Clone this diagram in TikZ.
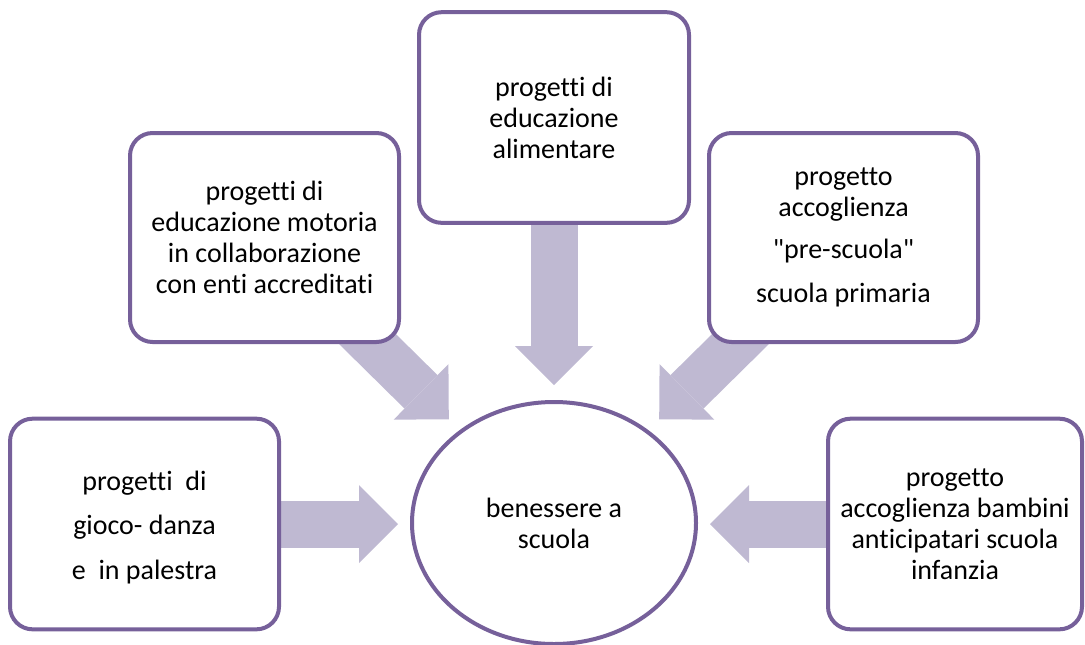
\documentclass[tikz,border=0pt]{standalone}
\usepackage{fontspec}
\setmainfont{Carlito}[Ligatures=NoCommon]
\usetikzlibrary{arrows.meta}
\usetikzlibrary{shapes}
\usetikzlibrary{backgrounds}
\definecolor{boxpurple}{RGB}{118,96,154}
\definecolor{arrowlilac}{RGB}{191,185,210}
\tikzset{
        bubble/.style={align=center,inner sep=0pt,font=\fontsize{21}{23.25}\selectfont},
        % Project boxes
        node_project/.style={bubble, rectangle, rounded corners=17pt, draw=boxpurple, line width=3pt, fill=white, minimum width=201.75pt, minimum height=158pt},
        % Central goal
        node_goal/.style={bubble, ellipse, draw=boxpurple, line width=3pt, fill=white, minimum width=213pt, minimum height=181.5pt},
        % Block arrows
        arrow_fat/.style={arrowlilac, line width=35.25pt, -{Triangle[width=58.5pt,length=29.25pt,line width=0pt]}}
}
\begin{document}
\begin{tikzpicture}[x=0.75pt, y=-0.75pt]
            \useasboundingbox (0,0) rectangle (1085,644);
            \node[node_goal] (benessere) at (554,523) {benessere a\\scuola};
            \node[node_project, font=\fontsize{21}{33.4}\selectfont] (gioco) at (144.5,524) {\\[-14pt]progetti\ \ di\\gioco- danza\\e\ \ in palestra};
            \node[node_project, minimum height=156.75pt] (motoria) at (264.5,237.5) {progetti di\\educazione motoria\\in collaborazione\\con enti accreditati};
            \node[node_project, minimum width=202.5pt] (alimentare) at (554,117.5) {progetti di\\educazione\\alimentare};
            \node[node_project, minimum height=156.75pt] (prescuola) at (843.5,237.5) {progetto\\accoglienza\\[8pt]\textquotedbl pre-scuola\textquotedbl\\[10pt]scuola primaria};
            \node[node_project, minimum width=190.5pt] (anticipatari) at (955,524) {progetto\\accoglienza bambini\\anticipatari scuola\\infanzia};
            \begin{scope}[on background layer]
                \draw[arrow_fat, shorten >=9pt] (gioco.center) -- (gioco.center -| benessere.west);
                \draw[arrow_fat, shorten >=9pt] (anticipatari.center) -- (anticipatari.center -| benessere.east);
                \draw[arrow_fat, shorten >=11.25pt] (alimentare.center) -- (benessere.north);
                \draw[arrow_fat, shorten >=11.5pt] (motoria.center) -- (benessere);
                \draw[arrow_fat, shorten >=11.5pt] (prescuola.center) -- (benessere);
            \end{scope}
        \end{tikzpicture}
\end{document}
